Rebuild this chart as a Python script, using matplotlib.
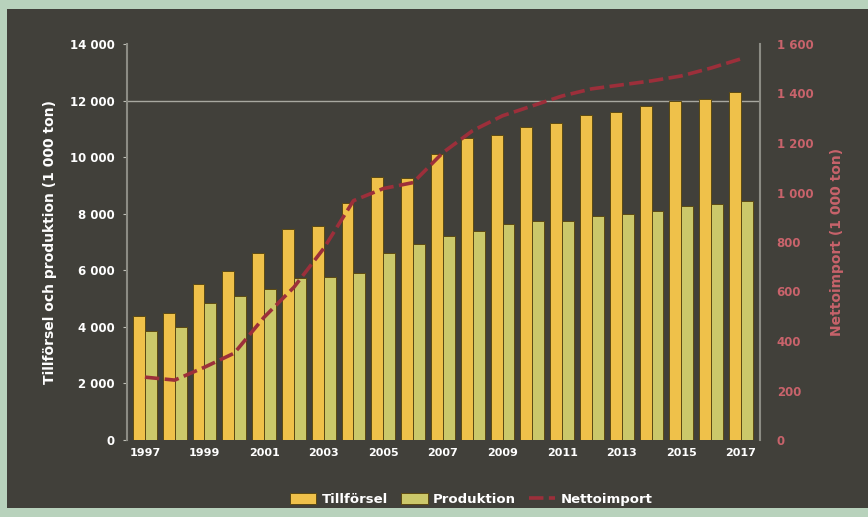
import matplotlib
matplotlib.use("Agg")
import matplotlib.pyplot as plt
import numpy as np
from matplotlib.patches import Rectangle

# data
years = np.arange(1997, 2018)
tillforsel = [4400, 4500, 5530, 5990, 6620, 7460, 7570, 8380, 9300, 9250,
              10100, 10670, 10800, 11080, 11200, 11500, 11600, 11800, 11970, 12040, 12300]
produktion = [3870, 3980, 4860, 5100, 5350, 5740, 5770, 5920, 6620, 6930,
              7220, 7390, 7640, 7750, 7750, 7920, 7990, 8100, 8270, 8340, 8450]
nettoimport = [254, 242, 294, 351, 496, 617, 774, 967, 1016, 1040,
               1161, 1250, 1310, 1350, 1390, 1419, 1435, 1451, 1471, 1503, 1540]
xticks = years[::2]
left_ticks = np.arange(0, 14001, 2000)
right_ticks = np.arange(0, 1601, 200)

def fmt(v):
    return "{:,}".format(int(v)).replace(",", " ")

bg = '#41403a'
red = '#c8636b'

fig = plt.figure(figsize=(8.68, 5.17), dpi=100)
fig.patch.set_facecolor('#b8d2bc')
fig.patches.append(Rectangle((7/868, 9/517), 861/868, 499/517, transform=fig.transFigure,
                             facecolor=bg, edgecolor='none', zorder=-10))

ax = fig.add_axes([127/868, 77/517, 633/868, 396/517])
ax.set_facecolor(bg)
w = 0.4
b1 = ax.bar(years - w/2, tillforsel, w, color='#efc14a', edgecolor='#5c4a12', lw=0.7,
            label='Tillförsel', zorder=3)
b2 = ax.bar(years + w/2, produktion, w, color='#cbc86a', edgecolor='#5c4a12', lw=0.7,
            label='Produktion', zorder=3)
ax.axhline(12000, color='#a8a8a0', lw=1.0, zorder=2)
ax.set_xlim(1996.4, 2017.64)
ax.set_ylim(0, 14000)
ax.set_xticks(xticks)
ax.set_xticklabels([str(y) for y in xticks], color='white', fontsize=8, fontweight='bold')
ax.set_yticks(left_ticks)
ax.set_yticklabels([fmt(v) for v in left_ticks], color='white', fontsize=8.5, fontweight='bold')
ax.tick_params(axis='x', length=0, pad=6)
ax.tick_params(axis='y', length=3, color='#c0c0b8', pad=6)
ax.set_ylabel('Tillförsel och produktion (1 000 ton)', color='white', fontsize=10,
              fontweight='bold', labelpad=9)
for s in ['top', 'bottom']:
    ax.spines[s].set_visible(False)
ax.spines['left'].set_color('#8c8c84')
ax.spines['left'].set_linewidth(1.5)
ax.spines['right'].set_color('#8c8c84')
ax.spines['right'].set_linewidth(1.5)

ax2 = ax.twinx()
l1, = ax2.plot(years, nettoimport, color='#9c2f3a', lw=2.6, ls=(0, (4, 1.5)),
               label='Nettoimport', zorder=4)
ax2.set_ylim(0, 1600)
ax2.set_yticks(right_ticks)
ax2.set_yticklabels([fmt(v) for v in right_ticks], color=red, fontsize=8.5, fontweight='bold')
ax2.tick_params(axis='y', length=0, pad=12)
ax2.set_ylabel('Nettoimport (1 000 ton)', color=red, fontsize=10, fontweight='bold',
               labelpad=12)
for s in ax2.spines.values():
    s.set_visible(False)

leg = fig.legend(handles=[b1, b2, l1], loc='center', bbox_to_anchor=(0.543, 0.033),
                 ncol=3, frameon=False, fontsize=9.5, handlelength=2.0, handleheight=0.9,
                 columnspacing=1.0, handletextpad=0.4)
for t in leg.get_texts():
    t.set_color('white')
    t.set_fontweight('bold')

fig.savefig('out.png', dpi=100, facecolor=fig.get_facecolor())
